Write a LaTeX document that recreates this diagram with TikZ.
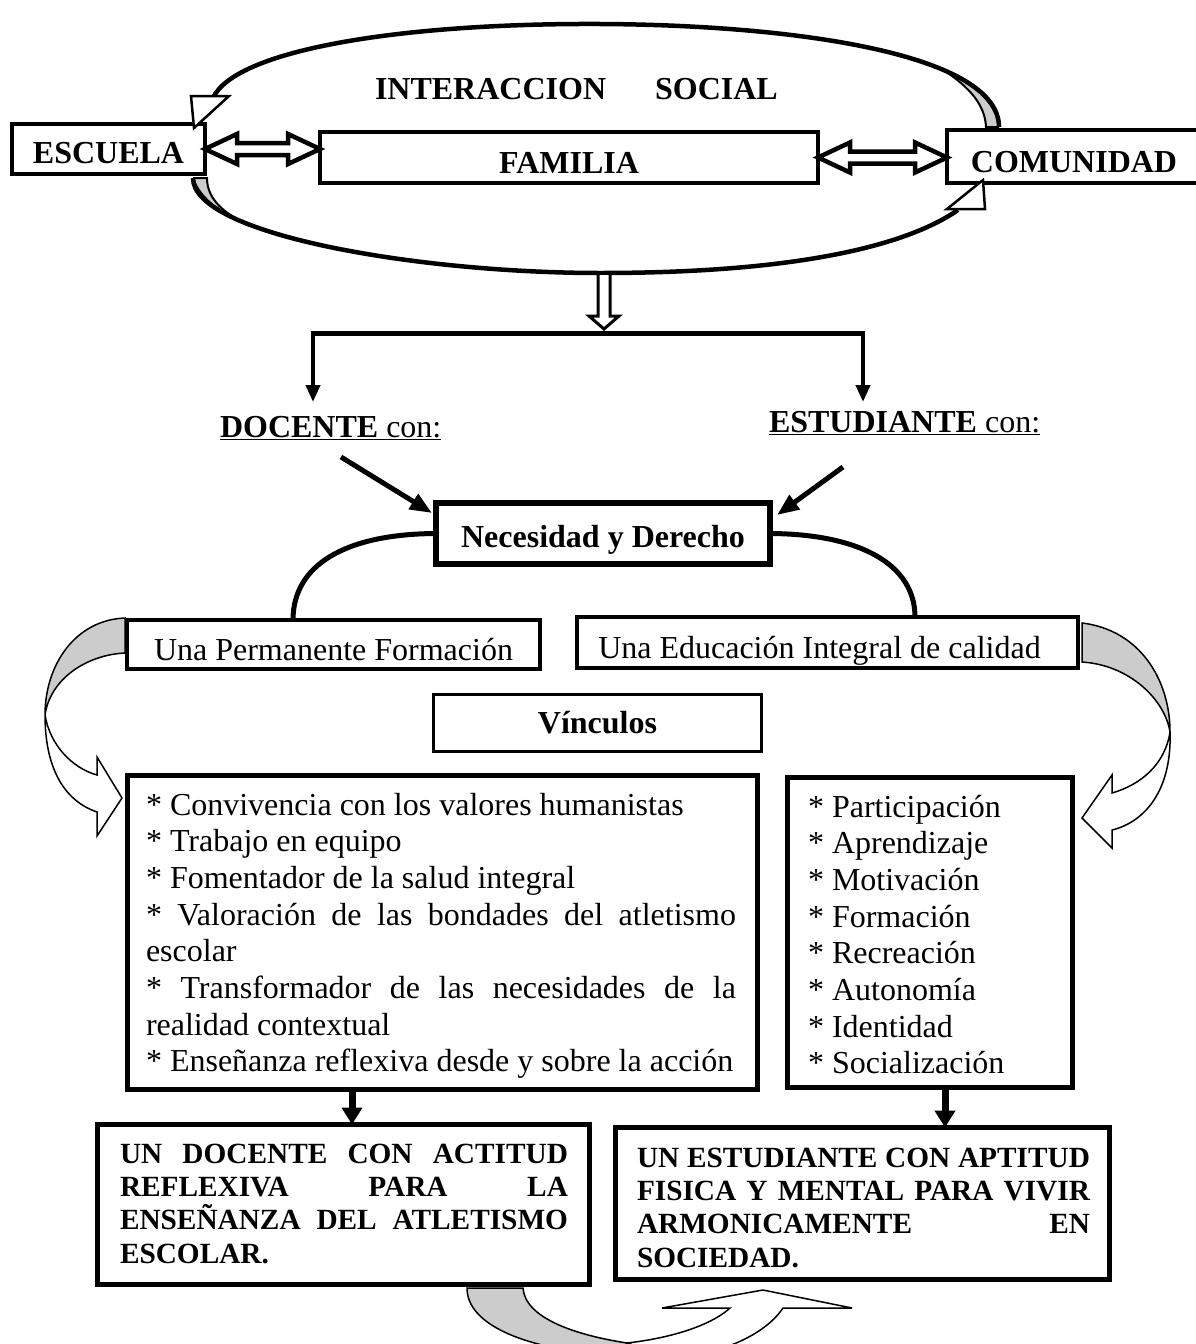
\documentclass[tikz,border=0pt]{standalone}
\usepackage{fontspec}
\setmainfont{Liberation Serif}
\usetikzlibrary{arrows.meta,calc}
\begin{document}
\begin{tikzpicture}[x=1pt,y=-1pt,
  box/.style={draw, fill=white, line width=4pt, inner sep=0pt, outer sep=0pt, font=\bfseries\fontsize{32}{36.8}\selectfont},
  regbox/.style={box, font=\fontsize{32}{36.8}\selectfont},
  thinbox/.style={box, line width=2.5pt},
  thickbox/.style={box, line width=5pt},
  txt/.style={inner sep=0pt, outer sep=0pt, font=\fontsize{32}{36.7}\selectfont},
  boldtxt/.style={inner sep=0pt, outer sep=0pt, font=\bfseries\fontsize{29.3}{33.4}\selectfont},
  arcline/.style={line width=4.5pt},
  outl/.style={draw, line width=1.5pt, fill=white, line join=miter},
  grayf/.style={draw, line width=1.5pt, fill=gray!40},
  downarrow/.style={line width=4pt, -{Triangle[length=17pt,width=14pt]}},
  diagarrow/.style={line width=5pt, -{Triangle[length=22pt,width=17pt]}},
  blkarrow/.style={line width=7pt, -{Triangle[length=17pt,width=20pt]}},
]
\fill[white] (0,0) rectangle (1196,1344);
\useasboundingbox (0,0) rectangle (1196,1344);

% ---------- ellipse arcs (interaction) ----------
\coordinate (t0) at (999,127);
\coordinate (t1) at (213,98);
\coordinate (b0) at (193,178);
\coordinate (b1) at (958,210);
\draw[grayf, line width=2pt] (t0) -- (986,127) .. controls (985,105) and (970,88) .. (945,71) .. controls (972,84) and (996,100) .. (t0);
\draw[arcline] (t0) .. controls (999,55) and (800,25) .. (600,24) .. controls (400,23) and (235,50) .. (t1);
\draw[grayf, line width=2pt] (b0) -- (207,178) .. controls (207,200) and (225,214) .. (250,226) .. controls (225,216) and (200,200) .. (b0);
\draw[arcline] (b0) .. controls (193,235) and (420,273) .. (600,273) .. controls (780,273) and (900,250) .. (b1);

% ---------- side curved arrows ----------
\coordinate (Ltip) at (122,798);
\coordinate (Rtip) at (1082,818);
\coordinate (Btip) at (763,1290);
\draw[grayf] (125,618) .. controls (75,620) and (45,665) .. (45,715) .. controls (50,680) and (85,655) .. (125,653) -- cycle;
\draw[outl] (45,715) .. controls (50,745) and (72,768) .. (97,775) -- (97,757) -- (Ltip) -- (97,836) -- (97,812) .. controls (62,800) and (45,765) .. (45,715) -- cycle;
\draw[grayf] (1082,623) .. controls (1140,630) and (1170,680) .. (1170,732) .. controls (1165,700) and (1130,665) .. (1082,662) -- cycle;
\draw[outl] (1170,732) .. controls (1165,765) and (1140,785) .. (1112,793) -- (1112,775) -- (Rtip) -- (1112,848) -- (1112,830) .. controls (1145,822) and (1172,790) .. (1170,732) -- cycle;
\draw[grayf] (467,1288) .. controls (467,1335) and (560,1356) .. (640,1356) -- (627,1343) .. controls (575,1335) and (525,1318) .. (523,1288) -- cycle;
\draw[outl] (627,1343) .. controls (680,1337) and (715,1322) .. (730,1308) -- (662,1308) -- (Btip) -- (852,1308) -- (783,1308) .. controls (765,1335) and (720,1355) .. (670,1358) -- cycle;

% ---------- top row ----------
\node[box, minimum width=193pt, minimum height=50pt, text height=28pt, text depth=0pt] (esc) at (108.5,149) {ESCUELA};
\node[box, minimum width=498pt, minimum height=51pt, text height=31pt, text depth=0pt] (fam) at (569,157.5) {FAMILIA};
\node[box, minimum width=254pt, minimum height=53pt, text height=31pt, text depth=0pt] (com) at (1074,156.5) {COMUNIDAD};
\node[txt, font=\bfseries\fontsize{32}{36}\selectfont, anchor=base west] (inter) at (375,99) {INTERACCION\hspace{49pt}SOCIAL};

% arrow heads of the ellipse arcs
\coordinate (th) at (194,128);
\coordinate (bh) at (983,180);
\draw[outl, line width=2.5pt] (th) -- ++(-3,-32) -- ++(38,0) -- cycle;
\draw[outl, line width=2.5pt] (bh) -- ++(2,29) -- ++(-38,0) -- cycle;

% double arrows
\draw[outl, line width=4.5pt] (esc.east) -- ++(32,-15) -- ++(0,9) -- ($(esc.east -| fam.west)+(-32,-6)$) -- ++(0,-9) -- (esc.east -| fam.west) -- ++(-32,15) -- ++(0,-9) -- ($(esc.east)+(32,6)$) -- ++(0,9) -- cycle;
\draw[outl, line width=4.5pt] (fam.east) -- ++(32,-15) -- ++(0,9) -- ($(fam.east -| com.west)+(-32,-6)$) -- ++(0,-9) -- (fam.east -| com.west) -- ++(-32,15) -- ++(0,-9) -- ($(fam.east)+(32,6)$) -- ++(0,9) -- cycle;

% hollow arrow down and bracket
\coordinate (ellb) at (604,275);
\coordinate (split) at (604,329);
\coordinate (bl) at (313,333);
\coordinate (br) at (863,333);
\coordinate (bld) at (313,402);
\coordinate (brd) at (863,402);
\draw[outl, line width=3pt] ($(ellb)+(-6,0)$) -- ($(split)+(-6,-13)$) -- ($(split)+(-15,-13)$) -- (split) -- ($(split)+(15,-13)$) -- ($(split)+(6,-13)$) -- ($(ellb)+(6,0)$);
\draw[line width=5pt] ($(bl)+(-2,0)$) -- ($(br)+(2,0)$);
\draw[downarrow] (bl) -- (bld);
\draw[downarrow] (br) -- (brd);

\node[txt, anchor=base west] (doc) at (220,437) {\underline{\textbf{DOCENTE} con:}};
\node[txt, anchor=base west] (est) at (769,432) {\underline{\textbf{ESTUDIANTE} con:}};

% ---------- Necesidad ----------
\node[box, line width=6pt, minimum width=334pt, minimum height=61pt, text height=27pt, text depth=0pt] (nec) at (603,533.5) {Necesidad y Derecho};
\coordinate (dl) at (341,457);
\coordinate (dr) at (843,467);
\draw[diagarrow] (dl) -- ($(nec.north west)+(-4,10)$);
\draw[diagarrow] (dr) -- ($(nec.north east)+(7,12)$);

\node[regbox, minimum width=413pt, minimum height=49pt, text height=31pt, text depth=0pt] (u1) at (333.5,644.5) {Una Permanente Formación};
\node[regbox, minimum width=501pt, minimum height=51pt, text height=31pt, text depth=0pt] (u2) at (827.5,642.5) {\hspace{-16pt}Una Educación Integral de calidad};
\coordinate (a1) at (293,0);
\coordinate (a2) at (915,0);
\draw[line width=5pt] (nec.west) .. controls (345,534) and (293,565) .. (a1 |- u1.north);
\draw[line width=5pt] (nec.east) .. controls (861,534) and (915,565) .. (a2 |- u2.north);

\node[thinbox, minimum width=328pt, minimum height=57pt, text height=20pt, text depth=0pt] (vin) at (597.5,723) {Vínculos};

% ---------- lists ----------
\node[thickbox, minimum width=630pt, minimum height=314pt] (lbox) at (442.5,932.5) {};
\node[txt, anchor=base west] (ltext) at (146,815) {\parbox[t]{590pt}{%
* Convivencia con los valores humanistas\par
* Trabajo en equipo\par
* Fomentador de la salud integral\par
\makebox[\linewidth][s]{* Valoración de las bondades del atletismo}\par
escolar\par
\makebox[\linewidth][s]{* Transformador de las necesidades de la}\par
realidad contextual\par
* Enseñanza reflexiva desde y sobre la acción}};

\node[thickbox, minimum width=285pt, minimum height=310pt] (rbox) at (930,932.5) {};
\node[txt, anchor=base west] (rtext) at (808,817) {\parbox[t]{250pt}{%
* Participación\par
* Aprendizaje\par
* Motivación\par
* Formación\par
* Recreación\par
* Autonomía\par
* Identidad\par
* Socialización}};

% ---------- conclusions ----------
\node[thickbox, minimum width=492pt, minimum height=160pt] (blbox) at (343.5,1204.5) {};
\node[boldtxt, anchor=base west] (bltext) at (120,1163) {\parbox[t]{448pt}{%
\makebox[\linewidth][s]{UN DOCENTE CON ACTITUD}\par
\makebox[\linewidth][s]{REFLEXIVA PARA LA}\par
\makebox[\linewidth][s]{ENSEÑANZA DEL ATLETISMO}\par
ESCOLAR.}};
\node[thickbox, minimum width=494pt, minimum height=152pt] (brbox) at (862.5,1203.5) {};
\node[boldtxt, anchor=base west] (brtext) at (637,1167) {\parbox[t]{453pt}{%
\makebox[\linewidth][s]{UN ESTUDIANTE CON APTITUD}\par
\makebox[\linewidth][s]{FISICA Y MENTAL PARA VIVIR}\par
\makebox[\linewidth][s]{ARMONICAMENTE EN}\par
SOCIEDAD.}};

\coordinate (ax) at (352,0);
\coordinate (bx) at (945,0);
\draw[blkarrow] (ax |- lbox.south) -- (ax |- blbox.north);
\draw[blkarrow] (bx |- rbox.south) -- (bx |- brbox.north);
\end{tikzpicture}
\end{document}
